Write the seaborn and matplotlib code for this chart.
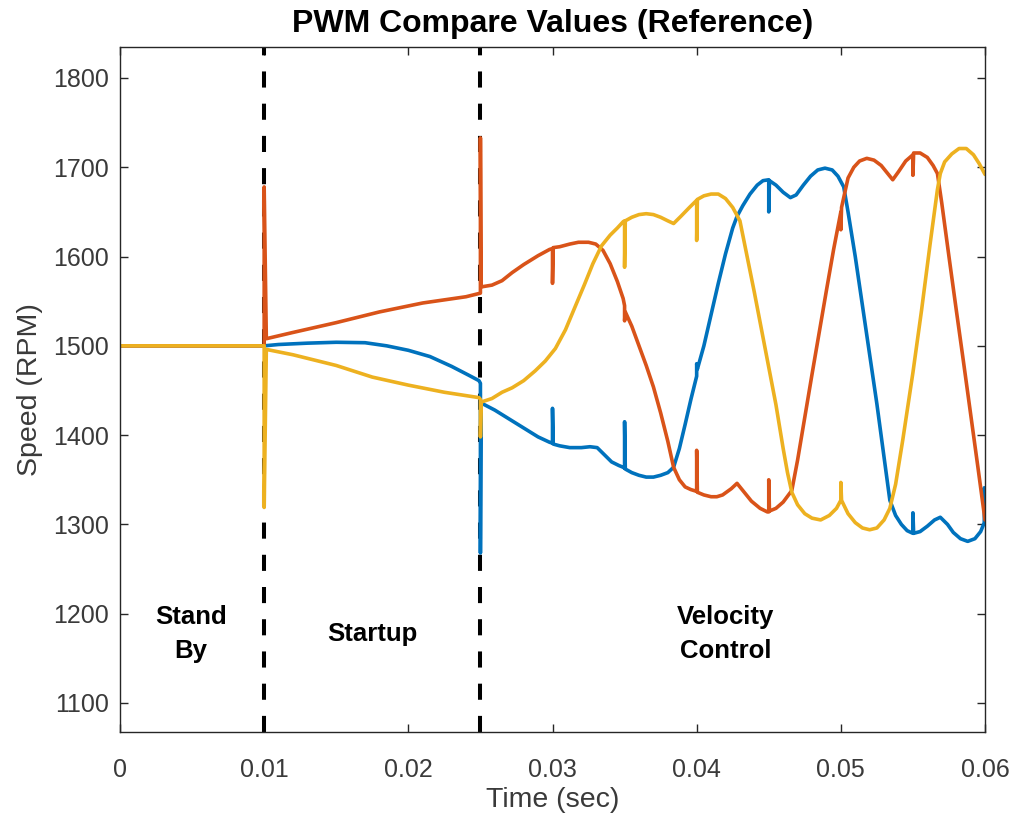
import numpy as np
import pandas as pd
import matplotlib
matplotlib.use("Agg")
import matplotlib.pyplot as plt
import seaborn as sns

# ---- phase boundaries and labels ----
phase_bounds = [0.01, 0.025]
phase_labels = ["Stand\nBy", "Startup", "Velocity\nControl"]
phase_label_t = [0.0049, 0.0175, 0.0420]
phase_label_y = [1177, 1177, 1177]

# ---- phase A (blue) ----
a_t = [0.0, 0.0100, 0.0110, 0.0130, 0.0150, 0.0170, 0.0185, 0.0200, 0.0215, 0.0230, 0.0242, 0.0249,
       0.0250, 0.0250, 0.02505, 0.0260, 0.0270, 0.0280, 0.0290, 0.0298,
       0.0300, 0.0300, 0.03005, 0.0305, 0.0312, 0.0320, 0.0326, 0.0331, 0.0336, 0.0341, 0.0346, 0.0349,
       0.0350, 0.0350, 0.03505, 0.0355, 0.0360, 0.0365, 0.0370, 0.0375, 0.0380, 0.0384,
       0.0388, 0.0392, 0.0396,
       0.0400, 0.0400, 0.04005, 0.0405, 0.0410, 0.0415, 0.0420, 0.0425, 0.0428, 0.0432, 0.0437, 0.0442, 0.0446,
       0.0450, 0.0450, 0.04505, 0.0455, 0.0460, 0.0465, 0.0469, 0.0474, 0.0479, 0.0484, 0.0489, 0.0494, 0.0498,
       0.0502, 0.0505, 0.0510, 0.0515, 0.0520, 0.0525, 0.0530, 0.0534, 0.0538, 0.0542, 0.0546,
       0.0550, 0.0550, 0.05505, 0.0555, 0.0560, 0.0565, 0.0569, 0.0574, 0.0578, 0.0583, 0.0588, 0.0593, 0.0597,
       0.05995, 0.05995, 0.0600]
a_v = [1500, 1500, 1501.5, 1503, 1504, 1503.5, 1500, 1495, 1488, 1477, 1467, 1461,
       1458, 1268, 1436, 1428, 1418, 1408, 1398, 1392,
       1391, 1430, 1390, 1388, 1386, 1386, 1387, 1386, 1378, 1370, 1366, 1364,
       1363, 1415, 1362, 1358, 1355, 1353, 1353, 1355, 1358, 1364,
       1385, 1412, 1440,
       1466, 1480, 1474, 1500, 1535, 1570, 1603, 1632, 1645, 1657, 1670, 1680, 1685,
       1686, 1650, 1685, 1680, 1672, 1666, 1669, 1680, 1690, 1697, 1699, 1697, 1690,
       1678, 1650, 1600, 1545, 1490, 1435, 1375, 1327, 1310, 1300, 1293,
       1290, 1313, 1290, 1292, 1298, 1305, 1308, 1300, 1291, 1284, 1281, 1284, 1292,
       1302, 1341, 1303]

# ---- phase B (orange) ----
b_t = [0.0, 0.0100, 0.0100, 0.01015, 0.0120, 0.0150, 0.0180, 0.0210, 0.0240, 0.0250,
       0.0250, 0.02505, 0.0258, 0.0265, 0.0272, 0.0280, 0.0290, 0.0298,
       0.0300, 0.0300, 0.03005, 0.0305, 0.0312, 0.0318, 0.0325, 0.0330, 0.0335, 0.0340, 0.0345, 0.0349,
       0.0350, 0.0350, 0.03505, 0.0355, 0.0360, 0.0365, 0.0370, 0.0375, 0.0380, 0.0384, 0.0388, 0.0392, 0.0396,
       0.0400, 0.0400, 0.04005, 0.0405, 0.0410, 0.0414, 0.0418, 0.0424, 0.0428, 0.0433, 0.0438, 0.0444, 0.0449,
       0.0450, 0.0450, 0.04505, 0.0455, 0.0460, 0.0466, 0.0470, 0.0475, 0.0480, 0.0485, 0.0490, 0.0495,
       0.0500, 0.0500, 0.05005, 0.0505, 0.0509, 0.0513, 0.0518, 0.0523, 0.0528, 0.0533, 0.0536, 0.0540, 0.0545,
       0.0550, 0.0550, 0.05505, 0.0555, 0.0560, 0.0564, 0.0567, 0.0570, 0.0575, 0.0580, 0.0585, 0.0590, 0.0595,
       0.0600]
b_v = [1500, 1500, 1678, 1508, 1515, 1526, 1538, 1548, 1555, 1559,
       1733, 1566, 1568, 1573, 1582, 1591, 1601, 1608,
       1609, 1570, 1610, 1611, 1614, 1616, 1616, 1614, 1607, 1592, 1572, 1553,
       1545, 1528, 1538, 1522, 1500, 1478, 1454, 1425, 1393, 1364, 1350, 1342, 1339,
       1337, 1383, 1336, 1333, 1331, 1331, 1333, 1340, 1346, 1336, 1326, 1318, 1314,
       1314, 1350, 1315, 1318, 1325, 1338, 1372, 1420, 1468, 1515, 1562, 1608,
       1650, 1630, 1655, 1688, 1700, 1707, 1710, 1708, 1702, 1692, 1686, 1695, 1707,
       1714, 1691, 1716, 1716, 1711, 1702, 1693, 1660, 1600, 1541, 1483, 1424, 1365,
       1305]

# ---- phase C (yellow) ----
c_t = [0.0, 0.0100, 0.0100, 0.01015, 0.0120, 0.0150, 0.0175, 0.0200, 0.0225, 0.0249,
       0.0250, 0.0250, 0.02505, 0.0258, 0.0265, 0.0272, 0.0280, 0.0288, 0.0295, 0.0302, 0.0309,
       0.0316, 0.0322, 0.0328, 0.0334, 0.0340, 0.0345, 0.0349,
       0.0350, 0.0350, 0.03505, 0.0355, 0.0360, 0.0365, 0.0370, 0.0375, 0.0380, 0.0384, 0.0389, 0.0395,
       0.0400, 0.0400, 0.04005, 0.0405, 0.0410, 0.0415, 0.0420, 0.0425, 0.0430, 0.0435, 0.0440, 0.0445,
       0.0450, 0.0455, 0.0460, 0.0463, 0.0466, 0.0470, 0.0475, 0.0480, 0.0486, 0.0492, 0.0497,
       0.0500, 0.0500, 0.05005, 0.0505, 0.0510, 0.0515, 0.0520, 0.0525, 0.0530, 0.0534, 0.0538, 0.0543,
       0.0550, 0.0556, 0.0562, 0.0567, 0.0569, 0.0572, 0.0577, 0.0582, 0.0587, 0.0592, 0.0596, 0.0600]
c_v = [1500, 1500, 1319, 1496, 1490, 1478, 1465, 1456, 1448, 1442,
       1440, 1398, 1437, 1441, 1448, 1453, 1461, 1472, 1483, 1497, 1518,
       1545, 1568, 1592, 1612, 1624, 1632, 1639,
       1640, 1588, 1640, 1644, 1647, 1648, 1647, 1644, 1640, 1637, 1645, 1655,
       1663, 1618, 1664, 1668, 1670, 1670, 1665, 1655, 1640, 1600, 1560, 1518,
       1476, 1434, 1385, 1358, 1336, 1322, 1312, 1307, 1305, 1310, 1318,
       1327, 1347, 1327, 1312, 1302, 1296, 1294, 1296, 1305, 1318, 1345, 1395,
       1470, 1540, 1615, 1675, 1693, 1706, 1715, 1721, 1721, 1714, 1704, 1692]

series_names = ["A", "B", "C"]
series_colors = ["#0072BD", "#D95319", "#EDB120"]

frames = []
for name, t, v in zip(series_names, [a_t, b_t, c_t], [a_v, b_v, c_v]):
    frames.append(pd.DataFrame({"time": t, "speed": v, "phase": name}))
df = pd.concat(frames, ignore_index=True)

sns.set_theme(style="white")
plt.rcParams["font.family"] = ["Liberation Sans", "DejaVu Sans"]

fig = plt.figure(figsize=(10.16, 8.18), dpi=100)
ax = fig.add_axes([120 / 1016, 1 - 732 / 818, 865 / 1016, 685 / 818])

for tb in phase_bounds:
    ax.axvline(tb, color="black", lw=2.9, ls=(0, (4, 4)), zorder=1.5)

sns.lineplot(data=df, x="time", y="speed", hue="phase", palette=series_colors,
             estimator=None, sort=False, legend=False, lw=2.6, ax=ax, zorder=2)

for lab, tx, ty in zip(phase_labels, phase_label_t, phase_label_y):
    ax.text(tx, ty, lab, ha="center", va="center", multialignment="center",
            fontsize=18.5, fontweight="bold", color="black", linespacing=1.5)

ax.set_xlim(0, 0.06)
ax.set_ylim(1067.5, 1834.7)
ax.set_xticks([0, 0.01, 0.02, 0.03, 0.04, 0.05, 0.06])
ax.set_xticklabels(["0", "0.01", "0.02", "0.03", "0.04", "0.05", "0.06"])
ax.set_yticks([1100, 1200, 1300, 1400, 1500, 1600, 1700, 1800])

grey = "#262626"
for sp in ax.spines.values():
    sp.set_visible(True)
    sp.set_color(grey)
    sp.set_linewidth(1.0)
ax.tick_params(direction="in", length=5.5, width=1.0, color=grey, labelcolor="#3a3a3a",
               labelsize=18, top=True, right=True, left=True, bottom=True)
ax.tick_params(axis="x", pad=19)
ax.tick_params(axis="y", pad=8)

ax.set_xlabel("Time (sec)", fontsize=20.5, color="#3a3a3a", labelpad=3)
ax.set_ylabel("Speed (RPM)", fontsize=20.5, color="#3a3a3a", labelpad=7)
ax.set_title("PWM Compare Values (Reference)", fontsize=23, fontweight="bold",
             color="black", pad=11)

fig.savefig("out.png", dpi=100)
